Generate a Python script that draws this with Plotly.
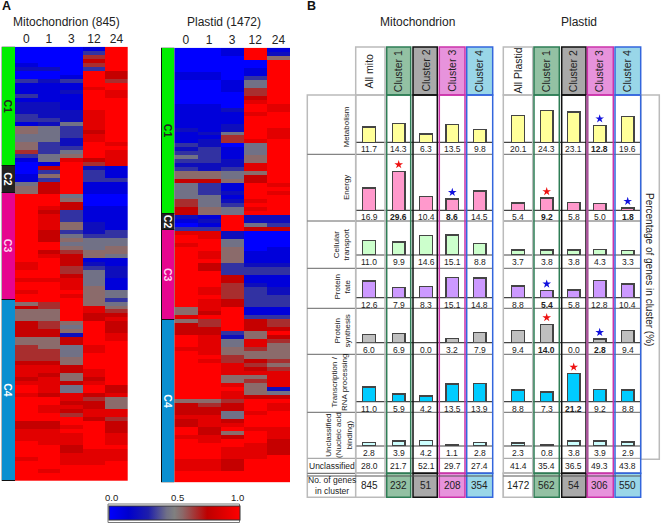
import plotly.graph_objects as go

FONT = "Liberation Sans"
W, H = 661, 527

# ---------- data ----------
time_labels = ["0", "1", "3", "12", "24"]
cluster_names = ["C1", "C2", "C3", "C4"]
mito_counts = [232, 51, 208, 354]
plastid_counts = [562, 54, 306, 550]
TOP = 9.0
mito_rows = [
[0,0,0,1,9],[0,0,0,3,9],[0,0,0,6,9],[0,0,0,7,9],[1,0,0,6,9],[2,2,0,3,9],[0,0,0,9,7],[0,0,1,9,7],
[3,2,3,9,6],[1,1,1,9,9],[1,1,1,8,9],[1,1,2,9,8],[3,1,1,9,8],[1,1,1,9,9],[2,2,1,9,9],[2,2,1,9,9],
[2,2,2,8,9],[3,2,2,8,9],[3,3,2,8,9],[1,2,4,8,9],[5,4,3,8,9],[5,4,3,7,9],[4,4,3,8,9],[4,4,2,8,9],
[5,3,2,9,8],[5,3,3,9,9],[6,3,4,9,8],[3,4,5,9,8],[1,4,8,7,8],[0,1,9,6,8],[0,7,9,2,1],[0,3,9,3,1],
[1,5,9,3,1],[1,3,9,3,3],[4,7,9,1,1],[5,7,9,1,1],[5,7,9,1,1],[9,9,4,0,0],[9,9,5,0,0],[9,9,7,0,0],
[9,8,7,1,1],[9,7,3,1,1],[9,8,3,1,1],[9,8,3,1,1],[9,8,5,2,1],[9,8,5,2,1],[9,7,3,2,3],[9,7,4,3,3],
[9,7,5,4,4],[9,9,4,4,4],[9,9,5,4,5],[9,7,6,5,5],[9,8,7,5,4],[9,9,7,1,1],[8,9,7,2,1],[8,9,6,3,2],
[9,9,6,4,2],[9,9,7,4,2],[8,8,8,4,1],[9,9,8,4,1],[9,9,8,5,1],[8,9,9,5,4],[9,9,8,5,4],[9,9,9,5,3],
[5,6,9,5,4],[7,6,9,8,5],[5,5,9,8,6],[5,5,9,7,7],[5,5,9,7,8],[7,6,5,9,7],[7,6,4,9,7],[7,7,5,9,7],
[7,7,2,9,8],[5,5,7,9,8],[5,5,7,9,9],[6,5,4,8,9],[6,6,4,8,9],[6,6,4,9,9],[6,6,5,9,9],[7,7,5,9,9],
[8,8,7,9,9],[8,8,7,8,9],[8,7,5,8,9],[7,8,5,7,9],[8,8,7,8,9],[9,8,4,9,7],[9,8,4,9,7],[8,7,8,7,8],
[9,9,8,6,5],[9,9,7,7,5],[9,8,8,7,5],[9,8,7,8,8],[9,9,6,8,8],[9,9,9,7,6],[7,7,9,9,7],[7,7,8,9,7],
[8,8,9,9,7],[8,8,8,9,8],[8,8,8,9,8],[9,8,8,9,8],[9,9,7,9,9],[9,9,7,8,8],[9,9,8,8,8],[8,9,8,8,8],
[9,9,8,8,9],[9,9,9,9,9],[9,8,9,9,9],[9,9,9,9,9],[9,9,9,9,9]]
plastid_rows = [
[0,0,1,9,1],[0,0,1,9,2],[0,0,0,9,5],[0,0,0,0,9],[0,0,0,0,9],[0,0,0,1,9],[1,1,0,1,9],[1,1,0,3,9],
[0,0,1,4,9],[0,0,1,4,9],[0,0,1,6,9],[0,0,0,6,9],[0,0,0,7,9],[0,0,0,8,9],[1,1,0,9,8],[1,1,2,9,8],
[1,1,1,8,9],[1,1,1,9,9],[1,1,1,9,9],[1,1,2,9,9],[2,1,2,9,8],[1,2,4,9,8],[1,1,6,9,8],[1,2,6,8,9],
[3,2,0,4,9],[2,3,1,4,9],[3,3,1,4,9],[4,3,1,5,9],[3,3,2,5,9],[2,2,2,8,9],[3,2,3,8,9],[5,5,4,5,9],
[5,5,4,7,9],[7,7,5,7,9],[4,3,1,9,8],[4,3,1,9,9],[4,3,2,9,8],[4,4,1,9,9],[6,4,2,8,9],[6,4,3,9,9],
[7,5,4,8,9],[7,5,4,9,9],[2,1,9,2,2],[1,2,9,2,2],[0,1,9,4,3],[3,3,9,7,7],[8,8,2,0,0],[9,8,2,0,0],
[9,9,4,0,0],[8,9,4,0,0],[9,9,5,0,1],[9,8,5,1,1],[9,8,5,1,1],[9,9,5,1,1],[9,7,3,2,2],[9,7,3,3,3],
[9,9,3,3,3],[9,9,7,1,1],[9,9,7,1,1],[9,9,6,2,1],[9,8,6,3,2],[9,8,6,3,2],[9,9,6,3,3],[9,8,7,3,3],
[9,8,7,3,3],[5,8,9,1,1],[5,7,9,1,1],[8,9,9,3,3],[5,6,9,7,6],[7,6,9,7,6],[7,7,9,7,7],[7,7,3,5,9],
[9,8,2,5,7],[9,8,4,8,6],[9,8,4,8,5],[8,8,5,6,5],[9,8,5,5,5],[9,9,6,5,5],[9,8,6,7,6],[9,9,8,6,5],
[9,9,8,7,6],[9,9,8,8,8],[9,9,5,5,8],[9,9,5,6,8],[9,9,8,5,8],[9,9,9,5,2],[9,9,8,5,4],[9,9,8,7,7],
[5,5,6,9,9],[7,6,7,9,8],[7,7,7,9,8],[7,7,4,8,9],[8,8,4,9,9],[7,8,7,9,9],[7,8,8,9,9],[9,7,9,8,8],
[9,7,5,9,8],[8,8,7,9,8],[9,8,9,9,7],[9,9,9,8,7],[9,9,8,8,7],[9,9,8,8,7],[9,9,8,8,9],[8,8,7,9,9],
[8,8,7,9,9],[8,8,7,9,9],[9,9,9,9,9],[9,9,9,9,9],[9,9,9,9,9]]

col_names = ["All mito", "Cluster 1", "Cluster 2", "Cluster 3", "Cluster 4",
             "All Plastid", "Cluster 1", "Cluster 2", "Cluster 3", "Cluster 4"]
metabolism = [11.7, 14.3, 6.3, 13.5, 9.8, 20.1, 24.3, 23.1, 12.8, 19.6]
energy = [16.9, 29.6, 10.4, 8.6, 14.5, 5.4, 9.2, 5.8, 5.0, 1.8]
transport = [11.0, 9.9, 14.6, 15.1, 8.8, 3.7, 3.8, 3.8, 4.3, 3.3]
fate = [12.6, 7.9, 8.3, 15.1, 14.8, 8.8, 5.4, 5.8, 12.8, 10.4]
synthesis = [6.0, 6.9, 0.0, 3.2, 7.9, 9.4, 14.0, 0.0, 2.8, 9.4]
transcription = [11.0, 5.9, 4.2, 13.5, 13.9, 8.8, 7.3, 21.2, 9.2, 8.8]
nucleic = [2.8, 3.9, 4.2, 1.1, 2.8, 2.3, 0.8, 3.8, 3.9, 2.9]
unclassified = [28.0, 21.7, 52.1, 29.7, 27.4, 41.4, 35.4, 36.5, 49.3, 43.8]
gene_counts = [845, 232, 51, 208, 354, 1472, 562, 54, 306, 550]
row_labels = ["Metabolism", "Energy", "Cellular<br>transport", "Protein<br>fate", "Protein<br>synthesis",
              "Transcription /<br>RNA processing", "Unclassified<br>(Nucleic acid<br>binding)"]
row_values = [metabolism, energy, transport, fate, synthesis, transcription, nucleic]
# significant enrichment / depletion: (row, column, kind)
stars = [(0, 8, "low"), (1, 1, "high"), (1, 3, "low"), (1, 6, "high"), (1, 9, "low"),
         (3, 6, "low"), (4, 6, "high"), (4, 8, "low"), (5, 7, "high")]

# ---------- layout constants (pixels) ----------
def px(x): return x / W
def py(y): return 1 - y / H

col_left = [355.7, 386.7, 413.0, 439.3, 466.7, 503.3, 534.0, 561.7, 587.3, 615.0]
col_right = [385.0, 410.7, 437.3, 465.0, 492.7, 532.7, 559.3, 586.0, 613.3, 640.7]
col_centre = [369.0, 398.7, 426.0, 452.3, 479.7, 518.0, 546.7, 573.7, 599.7, 627.7]
row_top = [95.0, 154.3, 221.0, 268.3, 308.3, 354.3, 412.3]
row_bottom = [154.3, 221.0, 268.3, 308.3, 354.3, 412.3, 458.3]
baseline = [142.3, 210.3, 255.0, 297.7, 342.7, 401.7, 446.0]
px_per_pct = 1.32
header_top, header_bottom, table_bottom = 47.0, 95.0, 497.3
col_line = ["#BBBBBB", "#2E7D55", "#111111", "#CC33AA", "#3366DD"] * 2
col_fill = ["#FFFFFF", "#93C1A3", "#A9A9A9", "#E793DC", "#99D6E8"] * 2
bar_fill = ["#FFFF99", "#FF99CC", "#CCFFCC", "#CC99FF", "#C0C0C0", "#00CCFF", "#CCFFFF"]
strip_colors = ["#00EE00", "#222222", "#E6058F", "#0A8FD0"]
strip_text = ["#222222", "#FFFFFF", "#FFD0F0", "#FFFFFF"]

colorscale = [[0, "rgb(0,0,255)"], [0.15, "rgb(0,0,205)"], [0.3, "rgb(30,30,170)"],
              [0.44, "rgb(112,112,135)"], [0.5, "rgb(128,128,128)"], [0.56, "rgb(140,105,105)"],
              [0.75, "rgb(190,0,0)"], [1, "rgb(255,0,0)"]]

fig = go.Figure()
layout = dict(
    width=W, height=H, margin=dict(l=0, r=0, t=0, b=0, pad=0), autosize=False,
    paper_bgcolor="white", plot_bgcolor="rgba(0,0,0,0)", showlegend=False, barmode="stack",
    font=dict(family=FONT, size=10, color="#222222"),
    coloraxis=dict(cmin=0, cmax=1, colorscale=colorscale,
                   colorbar=dict(orientation="h", x=px(174), xanchor="center", y=py(520.5), yanchor="bottom",
                                 len=131, lenmode="pixels", thickness=14, thicknessmode="pixels",
                                 outlinecolor="#333333", outlinewidth=1, xpad=0, ypad=0,
                                 ticks="", showticklabels=False)),
)
shapes, notes = [], []

def hidden(**kw):
    return dict(visible=False, fixedrange=True, showgrid=False, zeroline=False, **kw)

def note(x, y, text, size=8.5, bold=False, angle=0, color="#222222", anchor="center"):
    if bold:
        text = "<b>" + text + "</b>"
    notes.append(dict(x=px(x), y=py(y), xref="paper", yref="paper", text=text, showarrow=False,
                      textangle=angle, xanchor=anchor, yanchor="middle", align="center",
                      font=dict(family=FONT, size=size, color=color), borderpad=0, borderwidth=0))

def rect(x0, y0, x1, y1, line="#BBBBBB", fill=None, width=1.5, layer="below"):
    s = dict(type="rect", xref="paper", yref="paper", x0=px(x0), x1=px(x1), y0=py(y0), y1=py(y1),
             line=dict(color=line, width=width), layer=layer)
    if fill:
        s["fillcolor"] = fill
    shapes.append(s)

def hline(x0, x1, y, color="#555555", width=1.0, layer="below"):
    shapes.append(dict(type="line", xref="paper", yref="paper", x0=px(x0), x1=px(x1), y0=py(y), y1=py(y),
                       line=dict(color=color, width=width), layer=layer))

# ---------- panel A ----------
heat_boxes = [(15.0, 127.7, 46.7, 481.0, mito_rows, mito_counts, 1.7),
              (174.3, 290.0, 47.7, 482.3, plastid_rows, plastid_counts, 161.0)]
for i, (x0, x1, y0, y1, rows, counts, sx) in enumerate(heat_boxes):
    n = 2 * i + 1
    xa, ya = ("x" if n == 1 else f"x{n}"), ("y" if n == 1 else f"y{n}")
    fig.add_trace(go.Heatmap(z=[[v / TOP for v in r] for r in rows], x=time_labels, y=list(range(len(rows))),
                             coloraxis="coloraxis", xaxis=xa, yaxis=ya, hoverinfo="skip"))
    layout[f"xaxis{n}"] = dict(domain=[px(x0), px(x1)], type="category", side="top", anchor=ya, ticks="",
                               showline=False, showgrid=False, zeroline=False, fixedrange=True, ticklabelstandoff=0,
                               tickfont=dict(size=12, family=FONT, color="#222222"), tickangle=0)
    layout[f"yaxis{n}"] = hidden(domain=[py(y1), py(y0)], range=[len(rows) - 0.5, -0.5], anchor=xa)
    m = n + 1
    xb, yb = f"x{m}", f"y{m}"
    for name, v, c, tc in zip(cluster_names, counts, strip_colors, strip_text):
        fig.add_trace(go.Bar(x=["cluster"], y=[v], width=1, xaxis=xb, yaxis=yb, marker=dict(color=c, line=dict(color="#111111", width=1)),
                             text=["<b>" + name + "</b>"], textposition="inside", insidetextanchor="middle", textangle=90,
                             constraintext="none", textfont=dict(family=FONT, size=10.5, color=tc), hoverinfo="skip"))
    layout[f"xaxis{m}"] = hidden(domain=[px(sx), px(x0)], type="category", range=[-0.5, 0.5], anchor=yb)
    layout[f"yaxis{m}"] = hidden(domain=[py(y1), py(y0)], range=[sum(counts), 0], anchor=xb)

note(6, 6, "A", size=12.5, bold=True, color="#111111")
note(66.7, 22, "Mitochondrion (845)", size=12)
note(224, 22, "Plastid (1472)", size=12)
rect(108, 504, 239.5, 522.5, line="#777777", width=1)
note(111, 497.5, "0.0", size=9.5)
note(177.5, 497.5, "0.5", size=9.5)
note(237, 497.5, "1.0", size=9.5)

# ---------- panel B table background ----------
note(311, 6, "B", size=12.5, bold=True, color="#111111")
note(417.3, 22, "Mitochondrion", size=12)
note(579, 22, "Plastid", size=12)

for c in range(10):
    rect(col_left[c], header_top, col_right[c], header_bottom, line=col_line[c], fill=col_fill[c])
    rect(col_left[c], 473.3, col_right[c], table_bottom, line=col_line[c], fill=col_fill[c])
    note(col_centre[c] - 0.5, 71, col_names[c], size=10.5, angle=-90)

# outer boxes
rect(307.3, 95, 355.7, table_bottom, line="#BBBBBB", fill="#FFFFFF")
rect(640.7, 95, 659.3, 459.3, line="#BBBBBB", fill="#FFFFFF")
rect(355.7, 473.3, 385, table_bottom, line="#BBBBBB", fill="#FFFFFF")
rect(503.3, 473.3, 532.7, table_bottom, line="#BBBBBB", fill="#FFFFFF")

for sp in [(307.3, 492.7), (503.3, 640.7)]:
    for y in row_bottom[:-1]:
        hline(sp[0], sp[1], y, color="#666666")
    hline(sp[0], sp[1], 458.3, color="#AAAAAA", width=1.2)
    hline(sp[0], sp[1], 473.3, color="#777777", width=1.2)
    hline(sp[0], sp[1], 476.0, color="#555555", width=1)
for b in baseline:
    hline(355.7, 492.7, b, color="#444444", width=1.2)
    hline(503.3, 640.7, b, color="#444444", width=1.2)

for c in range(10):
    rect(col_left[c], header_bottom, col_right[c], 473.3, line=col_line[c], width=1.5)
shapes.append(dict(type="line", xref="paper", yref="paper", x0=px(587.3), x1=px(587.3), y0=py(95), y1=py(473.3),
                   line=dict(color="#A8559A", width=2.5), layer="below"))

note(346.5, 127, row_labels[0], size=8, angle=-90)
note(347, 188, row_labels[1], size=8, angle=-90)
note(341.5, 245, row_labels[2], size=8, angle=-90)
note(341.5, 287, row_labels[3], size=8, angle=-90)
note(341.5, 331, row_labels[4], size=8, angle=-90)
note(339, 383, row_labels[5], size=8, angle=-90)
note(339, 435, row_labels[6], size=8, angle=-90)
note(332, 465.5, "Unclassified", size=8.5)
note(332, 485.5, "No. of genes<br>in cluster", size=8.5)
note(649, 269, "Percentage of genes in cluster (%)", size=10, angle=90)

# ---------- panel B bars: one x axis per column, one y axis per row ----------
bold_cells = {(r, c) for r, c, _ in stars}
X0, Y0 = 5, 5
half = 14.0
for c in range(10):
    layout[f"xaxis{X0 + c}"] = hidden(domain=[px(col_centre[c] - half), px(col_centre[c] + half)], type="category",
                                      range=[-0.5, 0.5], anchor=f"y{Y0}")
for r in range(7):
    layout[f"yaxis{Y0 + r}"] = hidden(domain=[py(baseline[r]), py(row_top[r])],
                                      range=[0, (baseline[r] - row_top[r]) / px_per_pct], anchor=f"x{X0}")
    for c in range(10):
        v = row_values[r][c]
        fig.add_trace(go.Bar(x=[col_names[c]], y=[v], width=0.46, xaxis=f"x{X0 + c}", yaxis=f"y{Y0 + r}",
                             marker=dict(color=bar_fill[r], line=dict(color="#444444", width=1.4)), hoverinfo="skip"))
        note(col_centre[c], baseline[r] + 7, f"{v:.1f}", size=8.5, bold=(r, c) in bold_cells)

for r, c, kind in stars:
    fig.add_trace(go.Scatter(x=[col_names[c]], y=[row_values[r][c] + 5], mode="markers", xaxis=f"x{X0 + c}", yaxis=f"y{Y0 + r}",
                             marker=dict(symbol="star", size=6.5, color="#EE1111" if kind == "high" else "#1111DD", line=dict(width=0)),
                             hoverinfo="skip"))

for c in range(10):
    note(col_centre[c], 466, f"{unclassified[c]:.1f}", size=8.5)
    note(col_centre[c], 485.5, str(gene_counts[c]), size=10)

layout["shapes"] = shapes
layout["annotations"] = notes
fig.update_layout(**layout)
fig.write_html("out.html", post_script="document.body.style.margin='0';", config=dict(displayModeBar=False))
